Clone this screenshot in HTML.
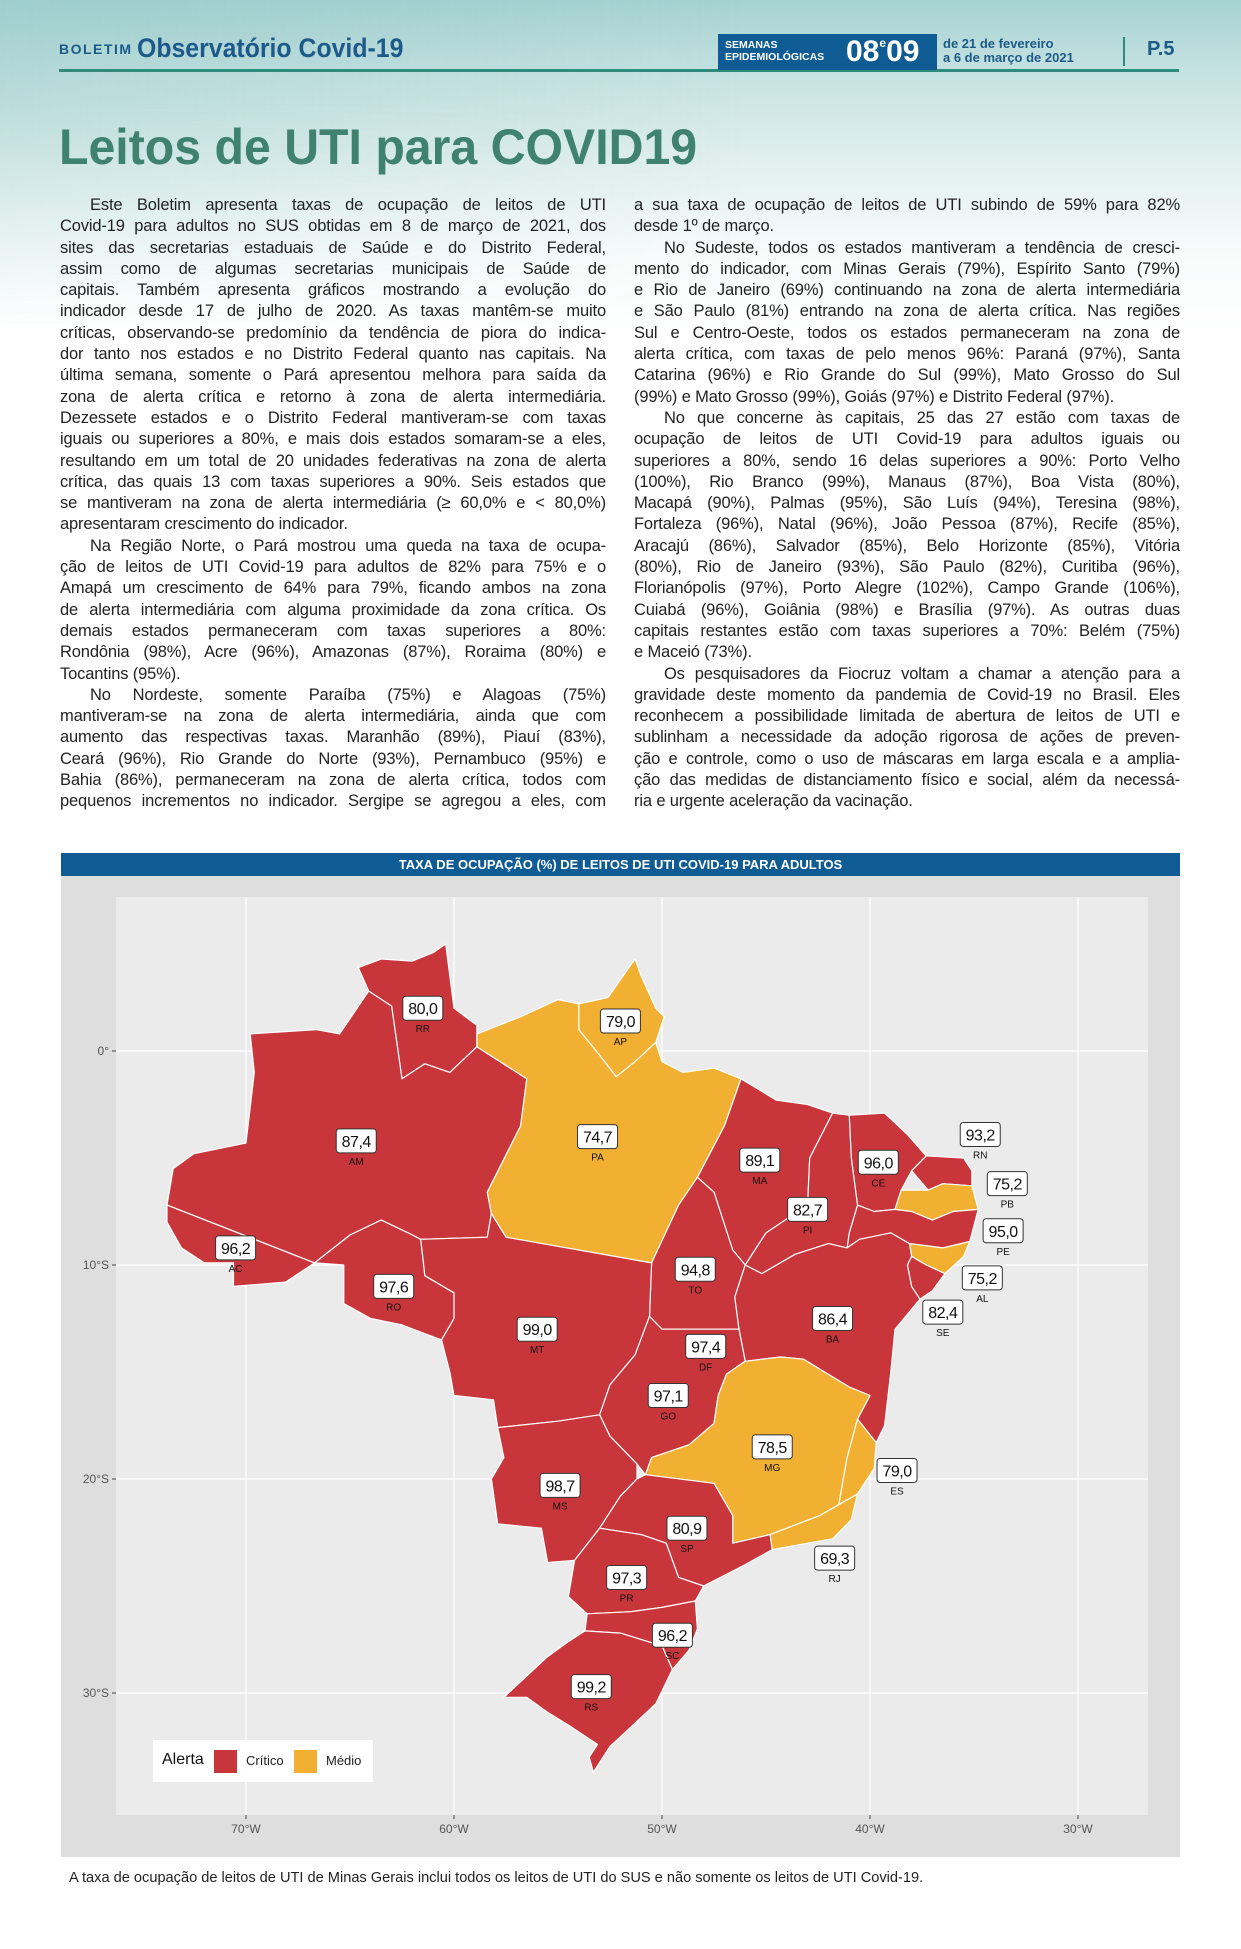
<!DOCTYPE html>
<html><head><meta charset="utf-8">
<style>
*{margin:0;padding:0;box-sizing:border-box}
body{width:1241px;height:1949px;position:relative;background:#fff;font-family:"Liberation Sans",sans-serif;overflow:hidden}
.bg{position:absolute;left:0;top:0;width:1241px;height:330px;background:linear-gradient(180deg,#a6d2d2 0%,#c5e2e1 22%,#e2f0ef 50%,#f6fbfa 75%,#ffffff 100%)}
.bg2{position:absolute;left:0;top:0;width:1241px;height:330px;background:linear-gradient(90deg,rgba(140,195,195,0.3) 0%,rgba(255,255,255,0) 60%);-webkit-mask-image:linear-gradient(180deg,#000 30%,transparent 100%);mask-image:linear-gradient(180deg,#000 30%,transparent 100%)}
.abs{position:absolute}
.col{position:absolute;width:546px;font-size:16.5px;letter-spacing:-0.15px;line-height:21.3px;color:#222}
.col div{text-align:justify;text-align-last:justify;white-space:nowrap;overflow:visible}
.col div.l{text-align-last:left}
.col div.i{text-indent:30px}
</style></head><body>
<div class="bg"></div>
<div class="bg2"></div>

<div class="abs" style="left:59px;top:33px;color:#1d5a8a;white-space:nowrap">
 <span style="font-size:14px;font-weight:bold;letter-spacing:1.5px;vertical-align:3px">BOLETIM</span>
 <span style="font-size:27px;font-weight:bold;display:inline-block;transform:scaleX(0.92);transform-origin:left">Observatório Covid-19</span>
</div>
<div class="abs" style="left:59px;top:69px;width:1120px;height:3px;background:#2e8c7c"></div>
<div class="abs" style="left:718px;top:34px;width:219px;height:36px;background:#0f5c95;color:#fff">
 <div class="abs" style="left:7px;top:5px;font-size:10.5px;line-height:12px;font-weight:bold">SEMANAS<br>EPIDEMIOLÓGICAS</div>
 <div class="abs" style="left:128px;top:1px;font-size:30px;font-weight:bold;white-space:nowrap">08<span style="font-size:12px;vertical-align:14px">e</span>09</div>
</div>
<div class="abs" style="left:943px;top:37px;font-size:13px;line-height:14px;font-weight:bold;color:#1d5a8a;white-space:nowrap">de 21 de fevereiro<br>a 6 de março de 2021</div>
<div class="abs" style="left:1123px;top:37px;width:2px;height:29px;background:#2e8c7c"></div>
<div class="abs" style="left:1147px;top:38px;font-size:20px;font-weight:bold;color:#1d5a8a">P.5</div>

<div class="abs" style="left:59px;top:118px;font-size:50px;font-weight:bold;color:#3f8270;white-space:nowrap;transform:scaleX(0.965);transform-origin:left">Leitos de UTI para COVID19</div>

<div class="col" style="left:60px;top:195px">
<div class="i">Este Boletim apresenta taxas de ocupação de leitos de UTI</div>
<div>Covid-19 para adultos no SUS obtidas em 8 de março de 2021, dos</div>
<div>sites das secretarias estaduais de Saúde e do Distrito Federal,</div>
<div>assim como de algumas secretarias municipais de Saúde de</div>
<div>capitais. Também apresenta gráficos mostrando a evolução do</div>
<div>indicador desde 17 de julho de 2020. As taxas mantêm-se muito</div>
<div>críticas, observando-se predomínio da tendência de piora do indica-</div>
<div>dor tanto nos estados e no Distrito Federal quanto nas capitais. Na</div>
<div>última semana, somente o Pará apresentou melhora para saída da</div>
<div>zona de alerta crítica e retorno à zona de alerta intermediária.</div>
<div>Dezessete estados e o Distrito Federal mantiveram-se com taxas</div>
<div>iguais ou superiores a 80%, e mais dois estados somaram-se a eles,</div>
<div>resultando em um total de 20 unidades federativas na zona de alerta</div>
<div>crítica, das quais 13 com taxas superiores a 90%. Seis estados que</div>
<div>se mantiveram na zona de alerta intermediária (≥ 60,0% e &lt; 80,0%)</div>
<div class="l">apresentaram crescimento do indicador.</div>
<div class="i">Na Região Norte, o Pará mostrou uma queda na taxa de ocupa-</div>
<div>ção de leitos de UTI Covid-19 para adultos de 82% para 75% e o</div>
<div>Amapá um crescimento de 64% para 79%, ficando ambos na zona</div>
<div>de alerta intermediária com alguma proximidade da zona crítica. Os</div>
<div>demais estados permaneceram com taxas superiores a 80%:</div>
<div>Rondônia (98%), Acre (96%), Amazonas (87%), Roraima (80%) e</div>
<div class="l">Tocantins (95%).</div>
<div class="i">No Nordeste, somente Paraíba (75%) e Alagoas (75%)</div>
<div>mantiveram-se na zona de alerta intermediária, ainda que com</div>
<div>aumento das respectivas taxas. Maranhão (89%), Piauí (83%),</div>
<div>Ceará (96%), Rio Grande do Norte (93%), Pernambuco (95%) e</div>
<div>Bahia (86%), permaneceram na zona de alerta crítica, todos com</div>
<div>pequenos incrementos no indicador. Sergipe se agregou a eles, com</div>
</div>

<div class="col" style="left:634px;top:195px">
<div>a sua taxa de ocupação de leitos de UTI subindo de 59% para 82%</div>
<div class="l">desde 1º de março.</div>
<div class="i">No Sudeste, todos os estados mantiveram a tendência de cresci-</div>
<div>mento do indicador, com Minas Gerais (79%), Espírito Santo (79%)</div>
<div>e Rio de Janeiro (69%) continuando na zona de alerta intermediária</div>
<div>e São Paulo (81%) entrando na zona de alerta crítica. Nas regiões</div>
<div>Sul e Centro-Oeste, todos os estados permaneceram na zona de</div>
<div>alerta crítica, com taxas de pelo menos 96%: Paraná (97%), Santa</div>
<div>Catarina (96%) e Rio Grande do Sul (99%), Mato Grosso do Sul</div>
<div class="l">(99%) e Mato Grosso (99%), Goiás (97%) e Distrito Federal (97%).</div>
<div class="i">No que concerne às capitais, 25 das 27 estão com taxas de</div>
<div>ocupação de leitos de UTI Covid-19 para adultos iguais ou</div>
<div>superiores a 80%, sendo 16 delas superiores a 90%: Porto Velho</div>
<div>(100%), Rio Branco (99%), Manaus (87%), Boa Vista (80%),</div>
<div>Macapá (90%), Palmas (95%), São Luís (94%), Teresina (98%),</div>
<div>Fortaleza (96%), Natal (96%), João Pessoa (87%), Recife (85%),</div>
<div>Aracajú (86%), Salvador (85%), Belo Horizonte (85%), Vitória</div>
<div>(80%), Rio de Janeiro (93%), São Paulo (82%), Curitiba (96%),</div>
<div>Florianópolis (97%), Porto Alegre (102%), Campo Grande (106%),</div>
<div>Cuiabá (96%), Goiânia (98%) e Brasília (97%). As outras duas</div>
<div>capitais restantes estão com taxas superiores a 70%: Belém (75%)</div>
<div class="l">e Maceió (73%).</div>
<div class="i">Os pesquisadores da Fiocruz voltam a chamar a atenção para a</div>
<div>gravidade deste momento da pandemia de Covid-19 no Brasil. Eles</div>
<div>reconhecem a possibilidade limitada de abertura de leitos de UTI e</div>
<div>sublinham a necessidade da adoção rigorosa de ações de preven-</div>
<div>ção e controle, como o uso de máscaras em larga escala e a amplia-</div>
<div>ção das medidas de distanciamento físico e social, além da necessá-</div>
<div class="l">ria e urgente aceleração da vacinação.</div>
</div>

<div class="abs" style="left:61px;top:853px;width:1119px;height:23px;background:#0f5c95;color:#fff;font-size:13px;font-weight:bold;text-align:center;line-height:23px">TAXA DE OCUPAÇÃO (%) DE LEITOS DE UTI COVID-19 PARA ADULTOS</div>
<div class="abs" style="left:61px;top:876px;width:1119px;height:981px;background:#dedede"></div>
<div class="abs" style="left:116px;top:897px;width:1032px;height:918px;background:#ebebeb"></div>

<svg id="map" class="abs" style="left:0;top:0" width="1241" height="1949"></svg>

<div class="abs" style="left:153px;top:1740px;width:220px;height:42px;background:#fff">
 <span class="abs" style="left:9px;top:11px;font-size:16px;color:#111">Alerta</span>
 <span class="abs" style="left:61px;top:10px;width:23px;height:23px;background:#c8363b"></span>
 <span class="abs" style="left:93px;top:13px;font-size:13px;color:#222">Crítico</span>
 <span class="abs" style="left:141px;top:10px;width:23px;height:23px;background:#f2b032"></span>
 <span class="abs" style="left:173px;top:13px;font-size:13px;color:#222">Médio</span>
</div>

<div class="abs" style="left:69px;top:1870px;font-size:14.6px;color:#222;white-space:nowrap">A taxa de ocupação de leitos de UTI de Minas Gerais inclui todos os leitos de UTI do SUS e não somente os leitos de UTI Covid-19.</div>

<script>
const states = ["RR","AP","AM","PA","MA","CE","RN","PB","PE","AL","SE","PI","TO","AC","RO","MT","BA","DF","GO","MG","ES","MS","SP","RJ","PR","SC","RS"];
const values = [80.0,79.0,87.4,74.7,89.1,96.0,93.2,75.2,95.0,75.2,82.4,82.7,94.8,96.2,97.6,99.0,86.4,97.4,97.1,78.5,79.0,98.7,80.9,69.3,97.3,96.2,99.2];
const alertLevel = ["Crítico","Médio","Crítico","Médio","Crítico","Crítico","Crítico","Médio","Crítico","Médio","Crítico","Crítico","Crítico","Crítico","Crítico","Crítico","Crítico","Crítico","Crítico","Médio","Médio","Crítico","Crítico","Médio","Crítico","Crítico","Crítico"];
const labelLon = [-61.5,-52.0,-64.7,-53.1,-45.3,-39.6,-34.7,-33.4,-33.6,-34.6,-36.5,-43.0,-48.4,-70.5,-62.9,-56.0,-41.8,-47.9,-49.7,-44.7,-38.7,-54.9,-48.8,-41.7,-51.7,-49.5,-53.4];
const labelLat = [2.0,1.4,-4.2,-4.0,-5.1,-5.2,-3.9,-6.2,-8.4,-10.6,-12.2,-7.4,-10.2,-9.2,-11.0,-13.0,-12.5,-13.8,-16.1,-18.5,-19.6,-20.3,-22.3,-23.7,-24.6,-27.3,-29.7];
const lonTicks = [-70,-60,-50,-40,-30];
const lonTickLabels = ["70°W","60°W","50°W","40°W","30°W"];
const latTicks = [0,-10,-20,-30];
const latTickLabels = ["0°","10°S","20°S","30°S"];

const geo = {
RR:[[-64.6,3.9],[-63.5,4.3],[-62.0,4.2],[-61.0,4.6],[-60.4,5.0],[-60.0,2.0],[-58.9,1.2],[-58.9,0.2],[-60.2,-1.0],[-61.4,-0.6],[-62.5,-1.3],[-63.0,2.1],[-64.1,2.8]],
AM:[[-69.8,0.8],[-66.6,1.0],[-65.5,0.8],[-64.1,2.8],[-63.0,2.1],[-62.5,-1.3],[-61.4,-0.6],[-60.2,-1.0],[-58.9,0.2],[-56.5,-1.3],[-56.8,-3.5],[-58.4,-6.6],[-58.2,-7.6],[-58.4,-8.7],[-61.6,-8.8],[-62.2,-8.5],[-63.5,-7.9],[-65.0,-8.6],[-66.7,-9.9],[-73.8,-7.2],[-73.5,-5.5],[-72.5,-4.8],[-70.0,-4.3],[-69.6,-1.0]],
AC:[[-73.8,-7.2],[-66.7,-9.9],[-68.1,-10.8],[-70.6,-11.0],[-70.6,-9.9],[-72.0,-9.9],[-73.1,-9.2],[-73.8,-8.0]],
RO:[[-63.5,-7.9],[-62.2,-8.5],[-61.6,-8.8],[-61.4,-10.5],[-60.0,-11.3],[-60.0,-12.5],[-60.6,-13.5],[-62.5,-12.8],[-64.0,-12.5],[-65.3,-11.8],[-65.3,-10.0],[-66.7,-9.9],[-65.0,-8.6]],
MT:[[-61.6,-8.8],[-58.4,-8.7],[-58.2,-7.6],[-57.5,-8.7],[-50.5,-9.9],[-50.6,-12.4],[-51.3,-14.2],[-52.5,-15.6],[-53.0,-17.0],[-55.0,-17.3],[-57.9,-17.6],[-58.1,-16.3],[-60.0,-16.1],[-60.2,-15.0],[-60.6,-13.5],[-60.0,-12.5],[-60.0,-11.3],[-61.4,-10.5]],
PA:[[-58.9,0.8],[-56.8,1.6],[-55.0,2.4],[-54.0,2.2],[-54.0,1.0],[-53.0,-0.2],[-52.2,-1.2],[-51.3,-0.5],[-50.3,0.4],[-50.0,-0.5],[-49.0,-1.0],[-47.5,-0.8],[-46.2,-1.3],[-47.0,-3.5],[-48.3,-5.9],[-49.2,-7.2],[-50.5,-9.9],[-57.5,-8.7],[-58.2,-7.6],[-58.4,-6.6],[-56.8,-3.5],[-56.5,-1.3],[-58.9,0.2]],
AP:[[-54.0,2.2],[-52.6,2.5],[-51.3,4.3],[-51.0,3.5],[-50.3,2.0],[-49.9,1.6],[-50.3,0.4],[-51.3,-0.5],[-52.2,-1.2],[-53.0,-0.2],[-54.0,1.0]],
MA:[[-46.2,-1.3],[-44.5,-2.3],[-43.0,-2.5],[-41.8,-2.9],[-42.9,-5.0],[-43.0,-7.2],[-45.0,-8.5],[-46.0,-10.0],[-46.6,-9.3],[-47.5,-6.6],[-48.3,-5.9],[-47.0,-3.5]],
TO:[[-48.3,-5.9],[-47.5,-6.6],[-46.6,-9.3],[-46.0,-10.0],[-46.5,-11.5],[-46.3,-13.0],[-47.0,-13.0],[-50.0,-13.0],[-50.6,-12.4],[-50.5,-9.9],[-49.2,-7.2]],
PI:[[-41.8,-2.9],[-41.0,-3.0],[-40.9,-5.0],[-40.6,-7.2],[-41.0,-8.5],[-41.1,-9.2],[-42.0,-9.0],[-43.6,-9.5],[-45.2,-10.4],[-46.0,-10.0],[-45.0,-8.5],[-43.0,-7.2],[-42.9,-5.0]],
CE:[[-41.0,-3.0],[-39.3,-2.9],[-38.2,-3.9],[-37.3,-4.9],[-38.0,-5.6],[-38.5,-6.5],[-38.8,-7.4],[-39.8,-7.5],[-40.6,-7.2],[-40.9,-5.0]],
RN:[[-37.3,-4.9],[-35.5,-5.0],[-35.1,-5.6],[-35.1,-6.3],[-36.5,-6.2],[-37.2,-6.5],[-38.0,-5.6]],
PB:[[-38.5,-6.5],[-37.2,-6.5],[-36.5,-6.2],[-35.1,-6.3],[-34.8,-7.4],[-36.0,-7.5],[-37.0,-7.9],[-38.0,-7.5],[-38.8,-7.4]],
PE:[[-40.6,-7.2],[-39.8,-7.5],[-38.8,-7.4],[-38.0,-7.5],[-37.0,-7.9],[-36.0,-7.5],[-34.8,-7.4],[-35.2,-8.9],[-36.5,-9.2],[-38.1,-9.0],[-39.0,-8.5],[-40.5,-8.8],[-41.1,-9.2],[-41.0,-8.5]],
AL:[[-38.1,-9.0],[-36.5,-9.2],[-35.2,-8.9],[-35.5,-9.6],[-36.4,-10.4],[-37.3,-10.0],[-38.0,-9.6]],
SE:[[-38.0,-9.6],[-37.3,-10.0],[-36.4,-10.4],[-37.0,-11.2],[-37.6,-11.6],[-38.0,-11.0],[-38.2,-10.0]],
BA:[[-46.0,-10.0],[-45.2,-10.4],[-43.6,-9.5],[-42.0,-9.0],[-41.1,-9.2],[-40.5,-8.8],[-39.0,-8.5],[-38.1,-9.0],[-38.0,-9.6],[-38.2,-10.0],[-38.0,-11.0],[-37.6,-11.6],[-38.8,-13.0],[-39.0,-15.0],[-39.3,-17.5],[-39.7,-18.3],[-40.6,-17.2],[-40.0,-16.1],[-41.0,-15.7],[-43.2,-14.4],[-44.3,-14.3],[-46.0,-14.5],[-46.3,-13.0],[-46.5,-11.5]],
MG:[[-46.0,-14.5],[-44.3,-14.3],[-43.2,-14.4],[-41.0,-15.7],[-40.0,-16.1],[-40.6,-17.2],[-41.1,-19.0],[-41.5,-21.2],[-42.4,-21.7],[-44.8,-22.6],[-46.6,-23.0],[-46.6,-21.7],[-47.5,-20.2],[-50.8,-19.8],[-50.5,-19.0],[-48.7,-18.4],[-47.5,-17.4],[-47.3,-16.1],[-46.9,-15.1]],
ES:[[-40.6,-17.2],[-39.7,-18.3],[-39.8,-19.5],[-40.6,-20.7],[-41.5,-21.2],[-41.1,-19.0]],
RJ:[[-41.5,-21.2],[-40.6,-20.7],[-40.9,-21.9],[-41.8,-22.8],[-43.0,-23.0],[-44.7,-23.3],[-44.8,-22.6],[-42.4,-21.7]],
SP:[[-50.8,-19.8],[-47.5,-20.2],[-46.6,-21.7],[-46.6,-23.0],[-44.8,-22.6],[-44.7,-23.3],[-46.0,-24.0],[-48.0,-25.0],[-49.2,-24.6],[-49.8,-23.0],[-51.0,-22.6],[-53.0,-22.3],[-52.0,-20.8],[-51.2,-20.0]],
GO:[[-50.0,-13.0],[-47.0,-13.0],[-46.3,-13.0],[-46.0,-14.5],[-46.9,-15.1],[-47.3,-16.1],[-47.5,-17.4],[-48.7,-18.4],[-50.5,-19.0],[-50.8,-19.8],[-51.2,-19.3],[-52.5,-18.0],[-53.0,-17.0],[-52.5,-15.6],[-51.3,-14.2],[-50.6,-12.4]],
DF:[[-48.2,-15.5],[-47.3,-15.5],[-47.3,-16.1],[-48.2,-16.1]],
MS:[[-57.9,-17.6],[-55.0,-17.3],[-53.0,-17.0],[-52.5,-18.0],[-51.2,-19.3],[-51.2,-20.0],[-52.0,-20.8],[-53.0,-22.3],[-54.2,-23.8],[-55.5,-23.9],[-55.8,-22.3],[-57.9,-22.1],[-58.2,-20.0],[-57.6,-19.0]],
PR:[[-53.0,-22.3],[-51.0,-22.6],[-49.8,-23.0],[-49.2,-24.6],[-48.0,-25.0],[-48.4,-25.7],[-50.0,-26.0],[-51.5,-26.2],[-53.6,-26.3],[-54.5,-25.5],[-54.2,-23.8]],
SC:[[-53.6,-26.3],[-51.5,-26.2],[-50.0,-26.0],[-48.4,-25.7],[-48.3,-27.0],[-48.7,-28.0],[-49.5,-28.9],[-50.0,-27.8],[-52.0,-27.2],[-53.7,-27.1]],
RS:[[-53.7,-27.1],[-52.0,-27.2],[-50.0,-27.8],[-49.5,-28.9],[-50.3,-30.5],[-51.5,-31.6],[-52.5,-32.5],[-53.3,-33.7],[-53.5,-33.0],[-53.1,-32.4],[-54.5,-31.5],[-55.5,-30.9],[-56.5,-30.2],[-57.6,-30.2],[-56.5,-29.2],[-55.5,-28.3],[-54.5,-27.6]]
};

const plot = {x0:116, x1:1148, y0:897, y1:1815};
function X(lon){ return 246 + (lon + 70) * 20.8; }
function Y(lat){ return 1051 - lat * 21.4; }
const colorOf = {"Crítico":"#c8363b","Médio":"#f2b032"};

const svg = document.getElementById('map');
const NS = 'http://www.w3.org/2000/svg';
function mk(tag, attrs){ const e = document.createElementNS(NS, tag); for (const k in attrs) e.setAttribute(k, attrs[k]); svg.appendChild(e); return e; }

lonTicks.forEach((t, i) => {
  const g = mk('line', {x1:X(t), x2:X(t), y1:plot.y0, y2:plot.y1, stroke:'#fff', 'stroke-width':1.3});
  
  
  const tk = mk('line', {x1:X(t), x2:X(t), y1:plot.y1, y2:plot.y1+4, stroke:'#444', 'stroke-width':1});
  
  
  const tx = mk('text', {x:X(t), y:plot.y1+18, 'text-anchor':'middle', 'font-size':12, fill:'#555', 'font-family':'Liberation Sans, sans-serif'});
  tx.textContent = lonTickLabels[i];
  
  
});
latTicks.forEach((t, i) => {
  const g = mk('line', {x1:plot.x0, x2:plot.x1, y1:Y(t), y2:Y(t), stroke:'#fff', 'stroke-width':1.3});
  
  
  const tk = mk('line', {x1:plot.x0-4, x2:plot.x0, y1:Y(t), y2:Y(t), stroke:'#444', 'stroke-width':1});
  
  
  const tx = mk('text', {x:plot.x0-7, y:Y(t)+4, 'text-anchor':'end', 'font-size':12, fill:'#555', 'font-family':'Liberation Sans, sans-serif'});
  tx.textContent = latTickLabels[i];
  
  
});

states.forEach((s, i) => {
  const pts = geo[s].map(p => X(p[0]).toFixed(1) + ',' + Y(p[1]).toFixed(1)).join(' ');
  const p = mk('polygon', {points:pts, fill:colorOf[alertLevel[i]], stroke:'#fff', 'stroke-width':1.2, 'stroke-linejoin':'round'});
  
  
});

states.forEach((s, i) => {
  const cx = X(labelLon[i]), cy = Y(labelLat[i]);
  const r = mk('rect', {x:cx-20, y:cy-12, width:40, height:24, rx:3, fill:'#fff', stroke:'#333', 'stroke-width':1});
  
  
  const t = mk('text', {x:cx, y:cy+6, 'text-anchor':'middle', 'font-size':16, fill:'#111', 'font-family':'Liberation Sans, sans-serif', 'letter-spacing':'-0.5'});
  t.textContent = values[i].toFixed(1).replace('.', ',');
  
  
  const c = mk('text', {x:cx, y:cy+24, 'text-anchor':'middle', 'font-size':10, fill:'#111', 'font-family':'Liberation Sans, sans-serif'});
  c.textContent = s;
  
  
});
</script>
</body></html>
